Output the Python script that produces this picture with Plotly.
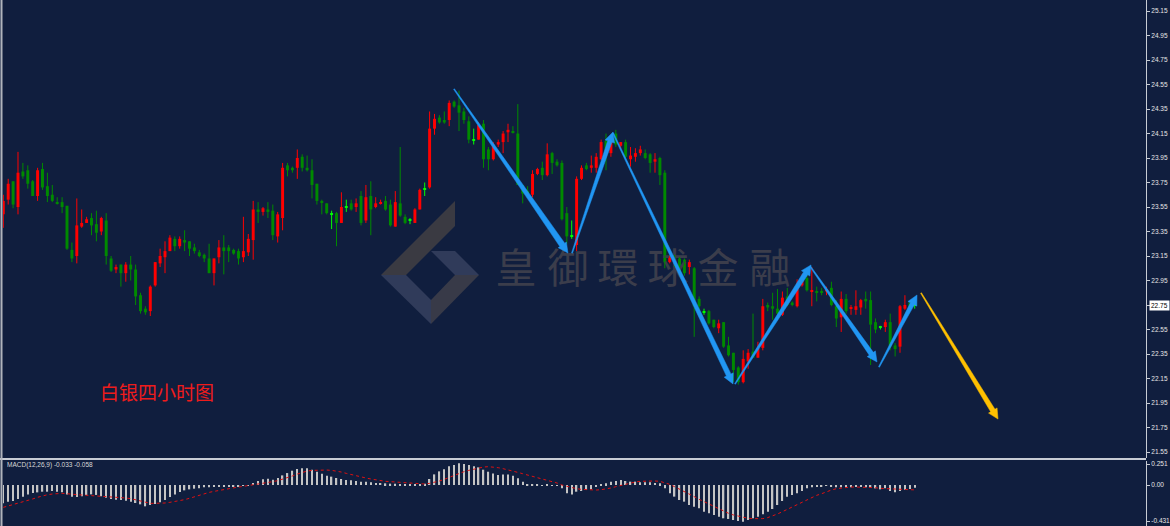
import plotly.graph_objects as go

# ---------------- data ----------------
opens = [
    23.49, 23.61, 23.76, 23.55, 23.84, 23.85, 23.76, 23.64, 23.86, 23.72,
    23.65, 23.59, 23.59, 23.56, 23.20, 23.15, 23.39, 23.42, 23.46, 23.41,
    23.35, 23.44, 23.13, 23.04, 23.08, 23.01, 23.08, 23.04, 22.83, 22.72,
    22.70, 22.91, 23.09, 23.14, 23.19, 23.29, 23.23, 23.28, 23.27, 23.22,
    23.18, 23.16, 23.13, 23.01, 23.14, 23.22, 23.22, 23.20, 23.19, 23.14,
    23.18, 23.28, 23.53, 23.51, 23.53, 23.52, 23.31, 23.46, 23.89, 23.87,
    23.87, 23.96, 23.87, 23.85, 23.74, 23.60, 23.58, 23.49, 23.50, 23.42,
    23.55, 23.58, 23.55, 23.64, 23.44, 23.64, 23.55, 23.58, 23.60, 23.57,
    23.39, 23.58, 23.47, 23.44, 23.42, 23.53, 23.70, 23.71, 24.19, 24.28,
    24.26, 24.26, 24.41, 24.38, 24.33, 24.25, 24.10, 24.10, 24.23, 24.02,
    23.94, 24.06, 24.08, 24.16, 24.17, 24.15, 23.73, 23.68, 23.65, 23.82,
    23.87, 23.81, 23.99, 23.92, 23.91, 23.50, 23.31, 23.24, 23.78, 23.89,
    23.87, 23.87, 23.94, 24.09, 23.99, 24.15, 24.05, 24.08, 23.94, 23.96,
    23.99, 23.99, 23.98, 23.92, 23.95, 23.83, 23.10, 23.14, 23.13, 23.12,
    23.06, 23.05, 22.80, 22.69, 22.70, 22.63, 22.56, 22.61, 22.42, 22.36,
    22.24, 22.12, 22.29, 22.37, 22.32, 22.40, 22.75, 22.74, 22.72, 22.67,
    22.82, 22.77, 22.74, 22.91, 22.97, 22.86, 22.86, 22.86, 22.86, 22.89,
    22.74, 22.65, 22.80, 22.72, 22.71, 22.73, 22.80, 22.79, 22.61, 22.57,
    22.57, 22.61, 22.42, 22.41, 22.72, 22.77, 22.75,
]
highs = [
    23.65, 23.78, 23.76, 24.00, 23.91, 23.89, 23.77, 23.87, 23.91, 23.83,
    23.73, 23.63, 23.63, 23.56, 23.26, 23.62, 23.53, 23.47, 23.50, 23.52,
    23.47, 23.50, 23.15, 23.08, 23.08, 23.10, 23.15, 23.08, 22.85, 22.74,
    22.91, 23.10, 23.21, 23.27, 23.32, 23.31, 23.31, 23.36, 23.27, 23.25,
    23.20, 23.17, 23.25, 23.13, 23.28, 23.32, 23.24, 23.21, 23.21, 23.47,
    23.33, 23.60, 23.59, 23.55, 23.59, 23.57, 23.51, 23.91, 23.91, 23.88,
    24.02, 23.98, 23.97, 23.94, 23.74, 23.61, 23.58, 23.52, 23.51, 23.67,
    23.61, 23.61, 23.62, 23.68, 23.73, 23.76, 23.63, 23.61, 23.64, 23.61,
    23.68, 24.04, 23.49, 23.46, 23.54, 23.70, 23.75, 24.33, 24.31, 24.30,
    24.33, 24.42, 24.42, 24.50, 24.36, 24.29, 24.19, 24.24, 24.26, 24.04,
    24.08, 24.10, 24.17, 24.23, 24.21, 24.39, 23.73, 23.72, 23.85, 23.87,
    23.92, 24.07, 24.00, 23.94, 23.93, 23.55, 23.44, 23.80, 23.89, 23.91,
    23.97, 23.99, 24.10, 24.15, 24.14, 24.18, 24.08, 24.10, 24.04, 24.03,
    24.05, 24.02, 23.99, 23.99, 23.96, 23.85, 23.15, 23.16, 23.14, 23.13,
    23.12, 23.06, 22.82, 22.72, 22.71, 22.63, 22.63, 22.61, 22.49, 22.36,
    22.25, 22.38, 22.39, 22.68, 22.45, 22.80, 22.77, 22.85, 22.88, 22.86,
    22.89, 22.78, 22.96, 23.00, 23.02, 23.06, 22.90, 22.89, 22.90, 22.94,
    22.79, 22.86, 22.84, 22.75, 22.87, 22.80, 22.86, 22.86, 22.64, 22.58,
    22.63, 22.68, 22.44, 22.75, 22.83, 22.78, 22.78,
]
lows = [
    23.38, 23.57, 23.54, 23.49, 23.78, 23.70, 23.64, 23.60, 23.69, 23.59,
    23.59, 23.57, 23.50, 23.20, 23.10, 23.09, 23.38, 23.42, 23.32, 23.27,
    23.32, 23.08, 23.02, 23.01, 22.90, 22.94, 22.95, 22.75, 22.68, 22.67,
    22.66, 22.90, 23.06, 23.01, 23.19, 23.19, 23.21, 23.19, 23.15, 23.17,
    23.14, 23.10, 23.01, 22.91, 23.09, 23.00, 23.10, 23.16, 23.08, 23.10,
    23.15, 23.12, 23.42, 23.48, 23.46, 23.28, 23.26, 23.36, 23.80, 23.83,
    23.78, 23.84, 23.84, 23.62, 23.57, 23.49, 23.49, 23.37, 23.23, 23.42,
    23.51, 23.52, 23.51, 23.40, 23.42, 23.32, 23.54, 23.57, 23.52, 23.39,
    23.39, 23.47, 23.41, 23.41, 23.42, 23.53, 23.64, 23.70, 24.14, 24.23,
    24.23, 24.21, 24.36, 24.17, 24.23, 24.07, 24.06, 24.10, 23.87, 23.85,
    23.93, 24.04, 23.99, 24.08, 24.15, 23.73, 23.58, 23.65, 23.63, 23.81,
    23.77, 23.80, 23.82, 23.88, 23.44, 23.25, 23.29, 23.19, 23.77, 23.85,
    23.83, 23.83, 23.93, 23.85, 23.96, 24.04, 24.02, 23.95, 23.88, 23.92,
    23.97, 23.94, 23.83, 23.83, 23.73, 23.05, 23.09, 23.06, 23.00, 22.99,
    23.00, 22.49, 22.67, 22.67, 22.59, 22.56, 22.52, 22.40, 22.33, 22.12,
    22.10, 22.11, 22.23, 22.32, 22.32, 22.38, 22.70, 22.63, 22.66, 22.66,
    22.74, 22.74, 22.73, 22.90, 22.86, 22.74, 22.78, 22.83, 22.83, 22.74,
    22.57, 22.53, 22.68, 22.67, 22.67, 22.67, 22.72, 22.26, 22.52, 22.55,
    22.53, 22.38, 22.33, 22.36, 22.71, 22.71, 22.72,
]
closes = [
    23.60, 23.74, 23.57, 23.83, 23.80, 23.74, 23.64, 23.85, 23.71, 23.64,
    23.60, 23.58, 23.55, 23.21, 23.13, 23.40, 23.42, 23.45, 23.40, 23.34,
    23.46, 23.15, 23.03, 23.06, 23.01, 23.08, 23.04, 22.82, 22.70, 22.69,
    22.90, 23.10, 23.15, 23.19, 23.30, 23.23, 23.29, 23.26, 23.21, 23.19,
    23.15, 23.13, 23.01, 23.13, 23.22, 23.19, 23.19, 23.17, 23.13, 23.19,
    23.29, 23.53, 23.51, 23.54, 23.51, 23.32, 23.49, 23.87, 23.85, 23.85,
    23.95, 23.87, 23.85, 23.73, 23.60, 23.59, 23.50, 23.49, 23.42, 23.55,
    23.55, 23.53, 23.58, 23.42, 23.63, 23.53, 23.58, 23.59, 23.53, 23.40,
    23.59, 23.48, 23.42, 23.44, 23.53, 23.69, 23.70, 24.19, 24.27, 24.24,
    24.24, 24.40, 24.37, 24.32, 24.26, 24.10, 24.10, 24.22, 23.94, 23.94,
    24.06, 24.08, 24.15, 24.18, 24.16, 23.73, 23.66, 23.66, 23.82, 23.86,
    23.81, 23.98, 23.91, 23.89, 23.45, 23.31, 23.31, 23.78, 23.87, 23.86,
    23.89, 23.96, 24.08, 23.99, 24.08, 24.06, 24.08, 23.96, 23.97, 23.99,
    24.02, 23.95, 23.91, 23.94, 23.81, 23.10, 23.14, 23.09, 23.02, 23.01,
    23.10, 22.74, 22.74, 22.69, 22.60, 22.57, 22.60, 22.41, 22.34, 22.22,
    22.12, 22.31, 22.36, 22.32, 22.40, 22.74, 22.73, 22.72, 22.68, 22.81,
    22.75, 22.75, 22.89, 22.95, 22.87, 22.87, 22.85, 22.85, 22.88, 22.75,
    22.64, 22.80, 22.70, 22.73, 22.74, 22.79, 22.78, 22.59, 22.55, 22.57,
    22.61, 22.41, 22.39, 22.74, 22.75, 22.72, 22.75,
]
macd_main = [
    -0.219, -0.199, -0.191, -0.167, -0.139, -0.112, -0.096, -0.088, -0.080, -0.080,
    -0.072, -0.080, -0.088, -0.112, -0.139, -0.143, -0.135, -0.119, -0.112, -0.119,
    -0.135, -0.151, -0.167, -0.175, -0.179, -0.187, -0.199, -0.215, -0.231, -0.255,
    -0.239, -0.227, -0.207, -0.179, -0.143, -0.112, -0.084, -0.064, -0.052, -0.044,
    -0.040, -0.028, -0.028, -0.024, -0.020, -0.020, -0.016, -0.012, -0.012, -0.008,
    -0.004, 0.024, 0.048, 0.068, 0.076, 0.064, 0.084, 0.115, 0.143, 0.171,
    0.191, 0.199, 0.199, 0.183, 0.159, 0.135, 0.112, 0.100, 0.084, 0.072,
    0.060, 0.056, 0.048, 0.040, 0.040, 0.032, 0.024, 0.024, 0.020, 0.016,
    0.016, 0.008, 0.004, 0.002, 0.004, 0.008, 0.016, 0.072, 0.127, 0.163,
    0.187, 0.223, 0.239, 0.259, 0.251, 0.239, 0.223, 0.211, 0.183, 0.159,
    0.139, 0.119, 0.127, 0.127, 0.112, 0.080, 0.040, 0.008, 0.004, 0.002,
    -0.004, 0.002, -0.004, -0.008, -0.040, -0.100, -0.112, -0.080, -0.072, -0.060,
    -0.052, -0.024, 0.002, 0.020, 0.040, 0.048, 0.060, 0.048, 0.040, 0.040,
    0.032, 0.032, 0.032, 0.024, 0.020, -0.040, -0.100, -0.139, -0.179, -0.199,
    -0.239, -0.259, -0.279, -0.319, -0.338, -0.358, -0.378, -0.398, -0.406, -0.418,
    -0.430, -0.438, -0.418, -0.398, -0.378, -0.350, -0.319, -0.287, -0.239, -0.191,
    -0.139, -0.119, -0.100, -0.072, -0.040, -0.028, -0.020, -0.020, -0.004, -0.012,
    -0.028, -0.028, -0.028, -0.028, -0.024, -0.024, -0.028, -0.032, -0.040, -0.052,
    -0.040, -0.072, -0.088, -0.072, -0.056, -0.048, -0.033,
]
macd_signal = [
    -0.267, -0.251, -0.239, -0.223, -0.207, -0.187, -0.167, -0.147, -0.127, -0.116,
    -0.108, -0.100, -0.100, -0.104, -0.112, -0.116, -0.119, -0.123, -0.127, -0.127,
    -0.127, -0.135, -0.139, -0.147, -0.151, -0.155, -0.163, -0.175, -0.187, -0.203,
    -0.219, -0.219, -0.219, -0.215, -0.207, -0.199, -0.191, -0.175, -0.159, -0.139,
    -0.119, -0.104, -0.088, -0.076, -0.064, -0.056, -0.044, -0.032, -0.024, -0.016,
    -0.008, 0.000, 0.008, 0.016, 0.028, 0.040, 0.052, 0.068, 0.088, 0.108,
    0.131, 0.151, 0.167, 0.175, 0.179, 0.179, 0.179, 0.175, 0.167, 0.155,
    0.139, 0.123, 0.112, 0.100, 0.084, 0.072, 0.060, 0.052, 0.044, 0.040,
    0.036, 0.032, 0.028, 0.020, 0.016, 0.008, 0.012, 0.020, 0.032, 0.048,
    0.068, 0.092, 0.112, 0.135, 0.159, 0.175, 0.191, 0.207, 0.215, 0.219,
    0.215, 0.207, 0.195, 0.183, 0.167, 0.151, 0.135, 0.119, 0.100, 0.088,
    0.072, 0.056, 0.044, 0.024, 0.000, -0.016, -0.032, -0.044, -0.052, -0.056,
    -0.060, -0.060, -0.056, -0.048, -0.036, -0.020, -0.004, 0.008, 0.024, 0.036,
    0.044, 0.048, 0.052, 0.048, 0.044, 0.028, 0.008, -0.020, -0.048, -0.080,
    -0.112, -0.139, -0.171, -0.199, -0.227, -0.259, -0.287, -0.311, -0.338, -0.358,
    -0.374, -0.390, -0.398, -0.402, -0.406, -0.402, -0.390, -0.370, -0.346, -0.319,
    -0.291, -0.267, -0.239, -0.207, -0.175, -0.147, -0.123, -0.104, -0.080, -0.060,
    -0.044, -0.036, -0.028, -0.024, -0.024, -0.024, -0.024, -0.028, -0.032, -0.040,
    -0.044, -0.048, -0.052, -0.052, -0.056, -0.056, -0.058,
]
price_ticks = [25.15, 24.95, 24.75, 24.55, 24.35, 24.15, 23.95, 23.75, 23.55, 23.35,
               23.15, 22.95, 22.75, 22.55, 22.35, 22.15, 21.95, 21.75, 21.55]
macd_ticks = [0.251, 0.0, -0.431]
macd_tick_text = ["0.251", "0.00", "-0.431"]
last_price = 22.75
macd_title = "MACD(12,26,9) -0.033 -0.058"
chart_title = "白银四小时图"
watermark = "皇御環球金融"

# drawn arrows: (x0, y0, x1, y1) in bar-index / price units
blue_arrows = [
    (91.98, 24.513, 115.24, 23.174),
    (116.06, 23.174, 124.43, 24.162),
    (124.43, 24.154, 148.92, 22.105),
    (149.33, 22.105, 164.84, 23.077),
    (164.63, 23.068, 178.31, 22.285),
    (178.71, 22.244, 186.47, 22.832),
]
blue_widths = [(1.0, 6.0), (1.0, 4.5), (1.0, 5.0), (1.0, 5.0), (1.0, 5.0), (1.0, 4.5)]
yellow_arrows = [(187.29, 22.848, 203.0, 21.819)]
yellow_widths = [(1.0, 5.0)]

# ---------------- geometry / style ----------------
W, H = 1170, 526
ML, MR = 3, 24
PW = W - ML - MR
MAIN_PX = 458
MACD_TOP_PX = 461
XR = [-0.06, 233.2]
YR = [21.501, 25.240]
MACD_R = [-0.490, 0.287]
BG = "#101e3e"
UP, DN, DOJI = "#ff0000", "#008a00", "#00ff00"
BLUE, GOLD = "#2196f3", "#ffc000"
AX = "#c8ccd4"
TICKFONT = dict(family="Liberation Sans", size=6.5, color="#e6e6e6")

sx = PW / (XR[1] - XR[0])
sy = MAIN_PX / (YR[1] - YR[0])


def px2data(px, py):
    return XR[0] + (px - ML) / sx, YR[1] - py / sy


def px2paper(px, py):
    return (px - ML) / PW, 1 - py / H


n = len(closes)
idx = list(range(n))
colors = [UP if c > o else (DN if c < o else DOJI) for o, c in zip(opens, closes)]
min_h = 1.0 / sy
bottoms, heights = [], []
for o, c in zip(opens, closes):
    h = abs(c - o)
    if h < min_h:
        bottoms.append(min(o, c) - (min_h - h) / 2)
        heights.append(min_h)
    else:
        bottoms.append(min(o, c))
        heights.append(h)

fig = go.Figure()

# watermark text (below the candles)
wm_px = [516, 568, 618, 668, 718, 770]
wm_pts = [px2data(p, 273) for p in wm_px]
fig.add_trace(go.Scatter(
    x=[p[0] for p in wm_pts], y=[p[1] for p in wm_pts], mode="text",
    text=list(watermark),
    textfont=dict(family="Noto Sans CJK TC", size=41, color="#3b3d4b"),
    hoverinfo="skip", showlegend=False, xaxis="x", yaxis="y"))

# wicks
for col in (UP, DN, DOJI):
    xs, ys = [], []
    for i in idx:
        if colors[i] == col:
            xs += [i, i, None]
            ys += [lows[i], highs[i], None]
    fig.add_trace(go.Scatter(x=xs, y=ys, mode="lines", line=dict(color=col, width=1),
                             hoverinfo="skip", showlegend=False, xaxis="x", yaxis="y"))

# bodies
fig.add_trace(go.Bar(x=idx, y=heights, base=bottoms, width=0.6,
                     marker=dict(color=colors, line=dict(width=0)),
                     hoverinfo="skip", showlegend=False, xaxis="x", yaxis="y"))


def arrow_poly(x0, y0, x1, y1, w0, w1, hw=5.0, hl=10.0):
    X0, Y0 = x0 * sx, -y0 * sy
    X1, Y1 = x1 * sx, -y1 * sy
    dx, dy = X1 - X0, Y1 - Y0
    L = (dx * dx + dy * dy) ** 0.5
    ux, uy = dx / L, dy / L
    nx, ny = -uy, ux
    bx, by = X1 - ux * hl, Y1 - uy * hl
    pts = [(X0 + nx * w0 / 2, Y0 + ny * w0 / 2), (bx + nx * w1 / 2, by + ny * w1 / 2),
           (bx + nx * hw, by + ny * hw), (X1, Y1), (bx - nx * hw, by - ny * hw),
           (bx - nx * w1 / 2, by - ny * w1 / 2), (X0 - nx * w0 / 2, Y0 - ny * w0 / 2)]
    pts.append(pts[0])
    return [p[0] / sx for p in pts], [-p[1] / sy for p in pts]


for arrows, widths, col in ((blue_arrows, blue_widths, BLUE), (yellow_arrows, yellow_widths, GOLD)):
    for (x0, y0, x1, y1), (w0, w1) in zip(arrows, widths):
        ax_, ay_ = arrow_poly(x0, y0, x1, y1, w0, w1)
        fig.add_trace(go.Scatter(x=ax_, y=ay_, mode="lines", fill="toself", fillcolor=col,
                                 line=dict(color=col, width=0.5), hoverinfo="skip",
                                 showlegend=False, xaxis="x", yaxis="y"))

# MACD pane
fig.add_trace(go.Bar(x=idx, y=macd_main, width=0.28, marker=dict(color="#c4c4c4", line=dict(width=0)),
                     hoverinfo="skip", showlegend=False, xaxis="x2", yaxis="y2"))
fig.add_trace(go.Scatter(x=idx, y=macd_signal, mode="lines", line=dict(color="#e01010", width=1, dash="dot"),
                         hoverinfo="skip", showlegend=False, xaxis="x2", yaxis="y2"))

# logo shapes
logo = [
    ([(455, 201), (455, 226), (406, 275), (381, 275)], "#3a3a42"),
    ([(381, 275), (406, 275), (431, 300), (431, 324)], "#303b5a"),
    ([(431, 300), (431, 324), (479, 275), (455, 275)], "#383a48"),
    ([(431, 251), (455, 251), (479, 275), (455, 275)], "#303b5a"),
]
shapes = []
for pts, col in logo:
    pp = [px2paper(*p) for p in pts]
    path = "M " + " L ".join(f"{a:.5f},{b:.5f}" for a, b in pp) + " Z"
    shapes.append(dict(type="path", path=path, xref="paper", yref="paper",
                       fillcolor=col, line=dict(width=0), layer="below"))
# separator between panes and left border
sep_y = px2paper(0, 459)[1]
shapes.append(dict(type="line", xref="paper", yref="paper", x0=px2paper(0, 0)[0], x1=1.0,
                   y0=sep_y, y1=sep_y, line=dict(color=AX, width=2)))
lx = px2paper(1.5, 0)[0]
shapes.append(dict(type="line", xref="paper", yref="paper", x0=lx, x1=lx, y0=0, y1=1,
                   line=dict(color="#b0b4bc", width=2)))

annotations = [
    dict(x=1.0, xref="paper", xanchor="left", xshift=3, y=last_price, yref="y",
         text=f"{last_price:.2f}", showarrow=False, bgcolor="#ffffff",
         font=dict(family="Liberation Sans", size=6.5, color="#000000"), borderpad=1),
    dict(x=px2paper(157, 0)[0], y=px2paper(0, 391)[1], xref="paper", yref="paper",
         xanchor="center", yanchor="middle", text=chart_title, showarrow=False,
         font=dict(family="Noto Sans CJK SC", size=19, color="#ee1c1c")),
    dict(x=px2paper(5, 0)[0], y=px2paper(0, 465)[1], xref="paper", yref="paper",
         xanchor="left", yanchor="middle", text=macd_title, showarrow=False,
         font=dict(family="Liberation Sans", size=6.5, color="#d8d8d8")),
]

yaxis_common = dict(side="right", showgrid=False, zeroline=False, showline=True, linecolor=AX,
                    linewidth=1, ticks="outside", ticklen=3, tickcolor=AX, tickfont=TICKFONT,
                    fixedrange=True)

fig.update_layout(
    width=W, height=H, margin=dict(l=ML, r=MR, t=0, b=0, autoexpand=False),
    paper_bgcolor=BG, plot_bgcolor=BG, barmode="overlay", showlegend=False,
    xaxis=dict(domain=[0, 1], range=XR, visible=False, anchor="y"),
    yaxis=dict(domain=[1 - MAIN_PX / H, 1], range=YR, anchor="x",
               tickvals=price_ticks, ticktext=[f"{v:.2f}" for v in price_ticks], **yaxis_common),
    xaxis2=dict(domain=[0, 1], range=XR, visible=False, anchor="y2"),
    yaxis2=dict(domain=[0, (H - MACD_TOP_PX) / H], range=MACD_R, anchor="x2",
                tickvals=macd_ticks, ticktext=macd_tick_text, **yaxis_common),
    shapes=shapes, annotations=annotations,
)

fig.write_html(
    "out.html",
    config={"displayModeBar": False},
    post_script="document.body.style.margin='0';document.body.style.background='" + BG + "';",
)
